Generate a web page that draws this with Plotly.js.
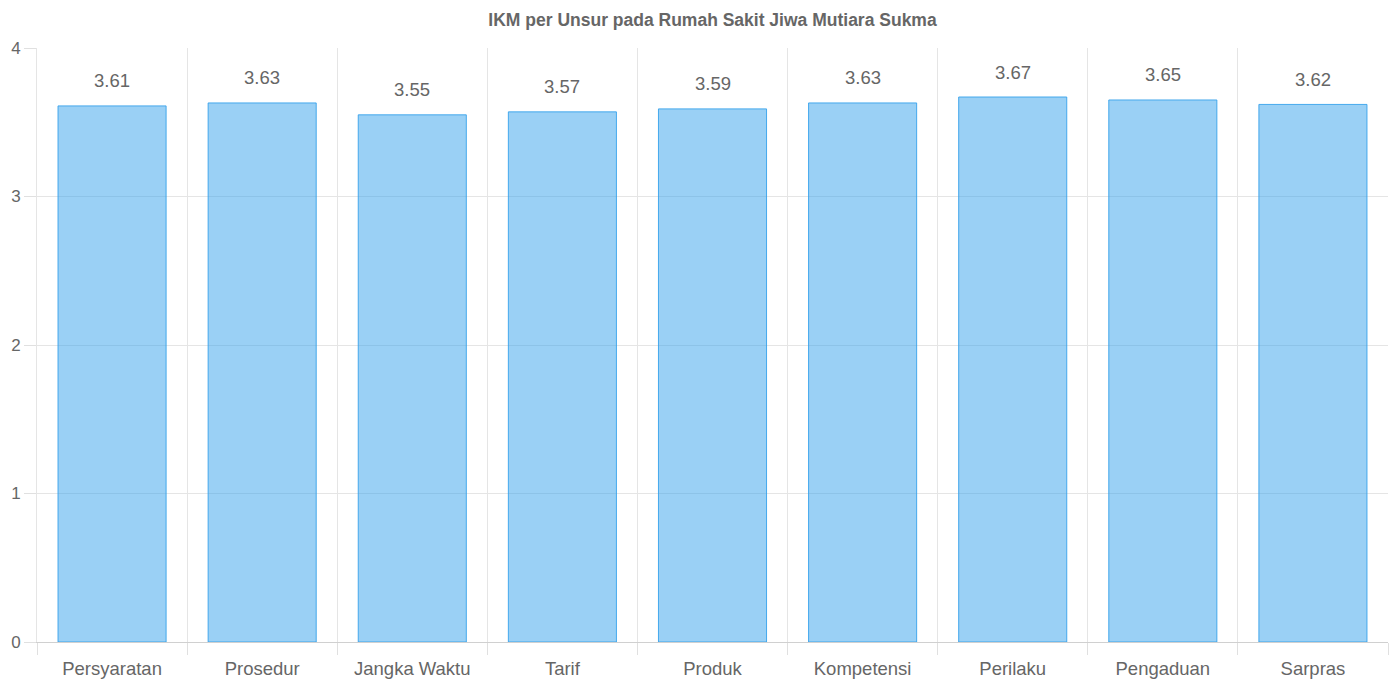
<!DOCTYPE html>
<html>
<head>
<meta charset="utf-8">
<script src="https://cdn.plot.ly/plotly-3.0.1.min.js"></script>
<style>html,body{margin:0;padding:0;background:#fff;}#chart{width:1391px;height:679px;}</style>
</head>
<body>
<div id="chart"></div>
<script>
const categories = ["Persyaratan", "Prosedur", "Jangka Waktu", "Tarif", "Produk", "Kompetensi", "Perilaku", "Pengaduan", "Sarpras"];
const values = [3.61, 3.63, 3.55, 3.57, 3.59, 3.63, 3.67, 3.65, 3.62];
const yTicks = [0, 1, 2, 3, 4];
const chartTitle = "IKM per Unsur pada Rumah Sakit Jiwa Mutiara Sukma";

const font = "Liberation Sans, Arial, sans-serif";
const trace = {
  type: "bar",
  x: categories,
  y: values,
  width: 0.72,
  marker: {color: "rgba(54,162,235,0.5)", line: {color: "rgba(54,162,235,0.9)", width: 1}},
  hoverinfo: "x+y"
};

const annotations = categories.map((c, i) => ({
  x: c, y: values[i], xref: "x", yref: "y",
  text: values[i].toFixed(2), showarrow: false,
  yanchor: "middle", yshift: 25,
  font: {family: font, size: 18.5, color: "#666"}
}));

const layout = {
  width: 1391, height: 679,
  margin: {l: 37, r: 3, t: 48, b: 37, pad: 0},
  paper_bgcolor: "#fff", plot_bgcolor: "#fff",
  showlegend: false,
  title: {text: "<b>" + chartTitle + "</b>", font: {family: font, size: 17.5, color: "#666"},
          x: 0.5, xref: "paper", y: 1 - 20/679, yref: "container", yanchor: "middle"},
  xaxis: {
    type: "category", tickson: "boundaries", ticks: "outside", ticklen: 12, tickcolor: "#e0e0e0",
    showgrid: true, gridcolor: "#e5e5e5", gridwidth: 1,
    showline: true, linecolor: "#d0d0d0", linewidth: 1,
    tickfont: {family: font, size: 18.5, color: "#666"},
    ticklabelstandoff: 10,
    range: [-0.5, 8.5], fixedrange: true
  },
  yaxis: {
    range: [0, 4], tickvals: yTicks, ticktext: yTicks.map(String),
    ticks: "outside", ticklen: 12, tickcolor: "#e0e0e0",
    showgrid: true, gridcolor: "#e5e5e5", gridwidth: 1,
    zeroline: true, zerolinecolor: "#d0d0d0", zerolinewidth: 1,
    showline: true, linecolor: "#e5e5e5", linewidth: 1,
    tickfont: {family: font, size: 17, color: "#666"},
    fixedrange: true
  },
  annotations: annotations,
  bargap: 0.28
};

Plotly.newPlot("chart", [trace], layout, {displayModeBar: false, staticPlot: true});
</script>
</body>
</html>
